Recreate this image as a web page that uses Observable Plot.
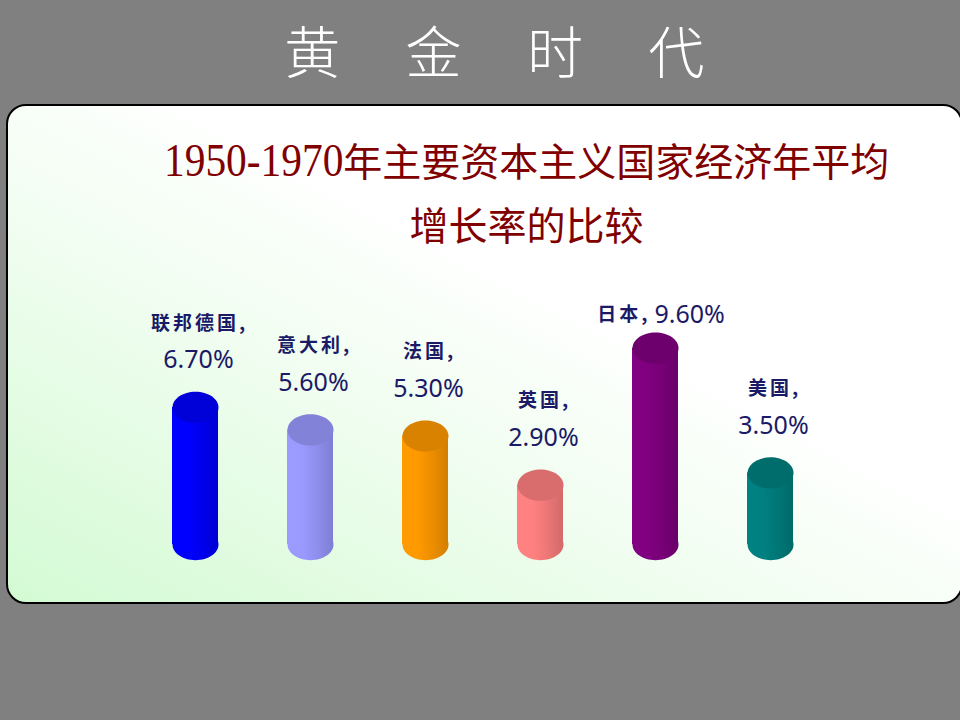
<!DOCTYPE html>
<html>
<head>
<meta charset="utf-8">
<script src="https://cdn.jsdelivr.net/npm/d3@7"></script>
<script src="https://cdn.jsdelivr.net/npm/@observablehq/plot@0.6"></script>
<style>
  html, body { margin: 0; padding: 0; }
  body { width: 960px; height: 720px; background: #808080; position: relative; overflow: hidden; }
  #title { position: absolute; left: 0; top: 14px; width: 960px; text-align: center; padding-left: 55px; box-sizing: border-box;
    font-family: "Noto Sans CJK SC", sans-serif; font-weight: 300; font-size: 56px; color: #ffffff; letter-spacing: 26.5px; line-height: 70px; }
  #panel { position: absolute; left: 6px; top: 104px; width: 957px; height: 500px; box-sizing: border-box;
    border: 2px solid #000; border-radius: 20px;
    background: linear-gradient(to top right, #d3fad3 0%, #eefdee 35%, #ffffff 60%); }
  #subtitle { position: absolute; left: 120px; top: 128px; width: 813px; text-align: center;
    font-family: "Noto Sans CJK SC", sans-serif; font-size: 39px; line-height: 62px; color: #800000; }
  #subtitle .yr { display: inline-block; font-family: "Liberation Serif", serif; font-size: 46px;
    transform: scaleX(0.9); transform-origin: left center; margin-right: -20px; }
  #chart { position: absolute; left: 0; top: 0; }
  g[font-family*="CJK"] text { letter-spacing: 3px; }
</style>
</head>
<body>
<div id="title">黄 金 时 代</div>
<div id="panel"></div>
<div id="subtitle"><span class="yr">1950-1970</span>年主要资本主义国家经济年平均<br>增长率的比较</div>
<div id="chart"></div>
<script>
// ---- data ----
const countries = ["联邦德国", "意大利", "法国", "英国", "日本", "美国"];
const growth = [6.7, 5.6, 5.3, 2.9, 9.6, 3.5];           // % per year
const valueLabels = ["6.70%", "5.60%", "5.30%", "2.90%", "9.60%", "3.50%"];
const colors = ["#0000ff", "#9999ff", "#ff9900", "#ff8080", "#800080", "#008080"];
const labelLayout = ["stacked", "stacked", "stacked", "stacked", "inline", "stacked"];

const data = countries.map((name, i) => ({
  i, name, value: growth[i], label: valueLabels[i], color: colors[i], layout: labelLayout[i]
}));
const stacked = data.filter(d => d.layout === "stacked");
const inline = data.filter(d => d.layout === "inline");

// elliptical symbol for cylinder caps
const ellipse = {
  draw(ctx, size) {
    const rx = Math.sqrt(size / Math.PI), ry = rx * 0.68;
    const kx = rx * 0.5523, ky = ry * 0.5523;
    ctx.moveTo(rx, 0);
    ctx.bezierCurveTo(rx, ky, kx, ry, 0, ry);
    ctx.bezierCurveTo(-kx, ry, -rx, ky, -rx, 0);
    ctx.bezierCurveTo(-rx, -ky, -kx, -ry, 0, -ry);
    ctx.bezierCurveTo(kx, -ry, rx, -ky, rx, 0);
    ctx.closePath();
  }
};

function defs() {
  const d = d3.create("svg:defs");
  data.forEach(row => {
    const c = d3.color(row.color);
    const g = d.append("linearGradient").attr("id", "cyl" + row.i).attr("x1", 0).attr("x2", 1).attr("y1", 0).attr("y2", 0);
    g.append("stop").attr("offset", "0%").attr("stop-color", c.brighter(0.05).formatHex());
    g.append("stop").attr("offset", "35%").attr("stop-color", c.formatHex());
    g.append("stop").attr("offset", "70%").attr("stop-color", c.darker(0.25).formatHex());
    g.append("stop").attr("offset", "100%").attr("stop-color", c.darker(0.55).formatHex());
  });
  return d.node();
}

const numFont = "'Noto Sans', 'DejaVu Sans', sans-serif";
const cjkFont = "'Noto Sans CJK SC', sans-serif";
const labelColor = "#1a1a66";

const chart = Plot.plot({
  width: 960,
  height: 720,
  margin: 0,
  x: { domain: countries, range: [102, 863], padding: 0.6, axis: null },
  y: { domain: [0, 10], range: [544, 339.5], axis: null },
  color: { type: "identity" },
  style: { background: "transparent", overflow: "visible" },
  marks: [
    defs,
    // bottom cap
    Plot.dot(data, { x: "name", y: () => 0, r: 23, symbol: ellipse, fill: d => `url(#cyl${d.i})`, stroke: "none" }),
    // body
    Plot.barY(data, { x: "name", y: "value", fill: d => `url(#cyl${d.i})` }),
    // top cap
    Plot.dot(data, { x: "name", y: "value", r: 23, symbol: ellipse, fill: d => d3.color(d.color).darker(0.45).formatHex(), stroke: "none" }),
    // labels (stacked)
    Plot.text(stacked, { x: "name", y: "value", text: d => d.name + ",", dy: -84, dx: 4, fill: labelColor,
      fontFamily: cjkFont, fontWeight: "bold", fontSize: 19 }),
    Plot.text(stacked, { x: "name", y: "value", text: "label", dy: -47, dx: 3, fill: labelColor,
      fontFamily: numFont, fontSize: 25 }),
    // labels (inline)
    Plot.text(inline, { x: "name", y: "value", text: d => d.name + ",", dy: -33, dx: -5, textAnchor: "end", fill: labelColor,
      fontFamily: cjkFont, fontWeight: "bold", fontSize: 19 }),
    Plot.text(inline, { x: "name", y: "value", text: "label", dy: -33, dx: -1, textAnchor: "start", fill: labelColor,
      fontFamily: numFont, fontSize: 25 })
  ]
});
document.getElementById("chart").appendChild(chart);
</script>
</body>
</html>
